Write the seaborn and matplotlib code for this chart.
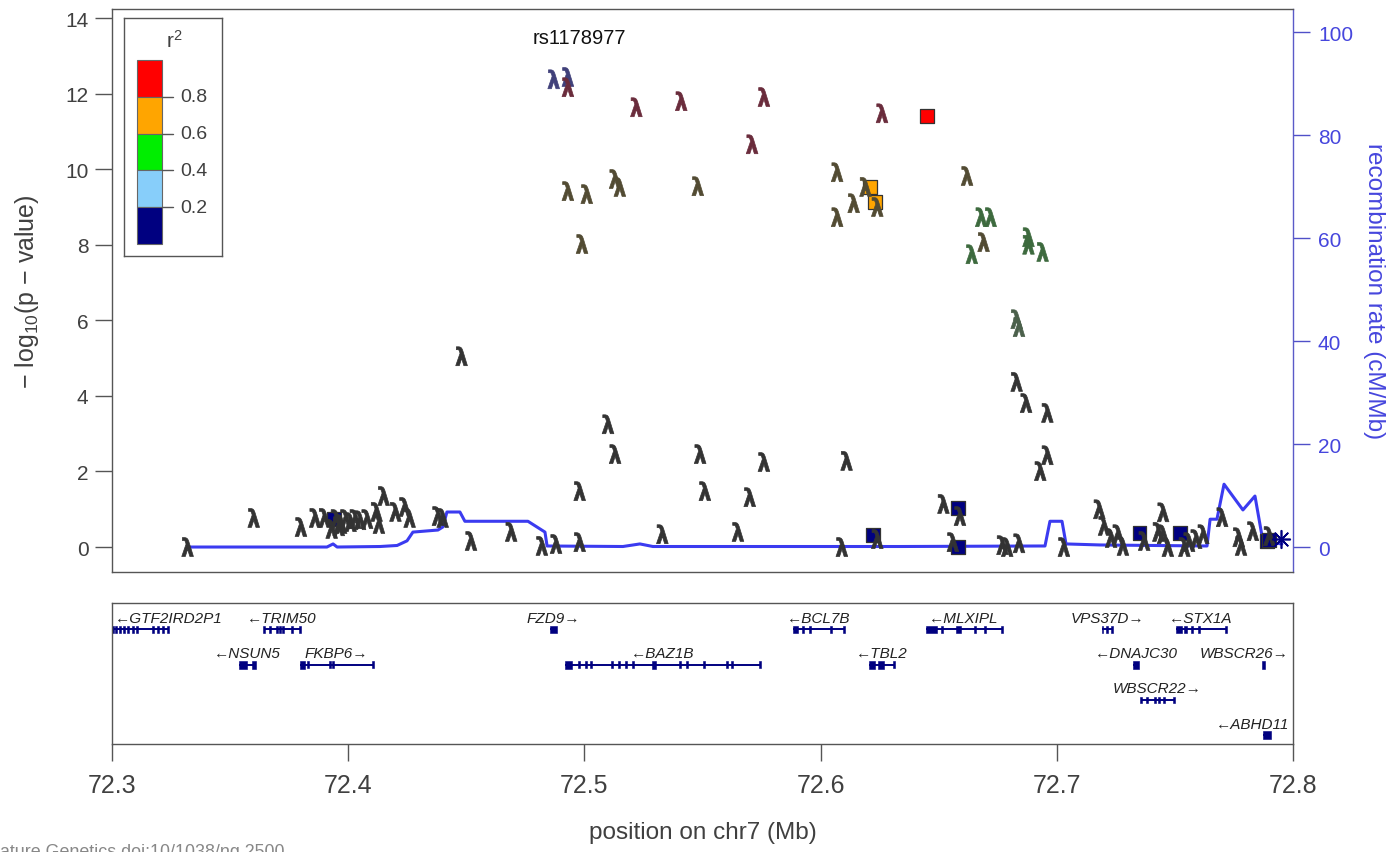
import matplotlib
matplotlib.use("Agg")
import matplotlib.pyplot as plt
import seaborn as sns
import pandas as pd
from matplotlib.patches import Rectangle
from matplotlib.textpath import TextPath
from matplotlib.font_manager import FontProperties
from matplotlib.path import Path

# ------------------------------------------------------------------ data
title_snp = "rs1178977"

# imputed SNPs (lambda symbols): position (Mb), -log10 p, colour group
lam_pos = [72.332, 72.360, 72.380, 72.386, 72.390, 72.393, 72.395, 72.396, 72.397, 72.399,
           72.401, 72.403, 72.405, 72.408, 72.412, 72.413, 72.415, 72.420, 72.424, 72.426,
           72.438, 72.440, 72.452,
           72.448, 72.510, 72.513, 72.549, 72.576, 72.611, 72.498, 72.551, 72.570, 72.469,
           72.482, 72.488, 72.498, 72.533, 72.565, 72.609, 72.624,
           72.487, 72.493, 72.493, 72.522, 72.541, 72.576, 72.571, 72.626,
           72.493, 72.501, 72.513, 72.515, 72.548, 72.499, 72.607, 72.619, 72.614, 72.607,
           72.624, 72.662, 72.669,
           72.668, 72.672, 72.664, 72.688, 72.688, 72.694, 72.683, 72.684,
           72.683, 72.687, 72.696, 72.696, 72.693, 72.652, 72.659, 72.656, 72.677, 72.679,
           72.684, 72.703, 72.718, 72.720, 72.723, 72.726, 72.728, 72.737, 72.745, 72.743,
           72.745, 72.747, 72.754, 72.756, 72.759, 72.762, 72.770, 72.777, 72.778, 72.783,
           72.790]
lam_logp = [0.00, 0.77, 0.53, 0.77, 0.77, 0.48, 0.74, 0.55, 0.61, 0.74,
            0.66, 0.74, 0.71, 0.74, 0.93, 0.61, 1.35, 0.93, 1.06, 0.77,
            0.82, 0.77, 0.16,
            5.05, 3.25, 2.46, 2.46, 2.25, 2.28, 1.48, 1.48, 1.32, 0.40,
            0.03, 0.08, 0.13, 0.34, 0.40, 0.00, 0.21,
            12.38, 12.44, 12.17, 11.64, 11.80, 11.91, 10.66, 11.48,
            9.42, 9.34, 9.74, 9.53, 9.55, 8.02, 9.92, 9.53, 9.10, 8.73,
            9.00, 9.82, 8.07,
            8.73, 8.73, 7.75, 8.20, 8.00, 7.81, 6.03, 5.82,
            4.37, 3.81, 3.55, 2.43, 2.01, 1.14, 0.82, 0.13, 0.05, 0.00,
            0.10, 0.00, 1.00, 0.56, 0.24, 0.34, 0.03, 0.16, 0.92, 0.40,
            0.34, 0.00, 0.00, 0.13, 0.21, 0.34, 0.79, 0.26, 0.03, 0.42,
            0.29]
lam_group = (["low"] * 23 + ["low"] * 17 +
             ["blue", "blue", "red", "red", "red", "red", "red", "red"] +
             ["olive"] * 13 +
             ["green"] * 6 + ["greengrey"] * 2 +
             ["low"] * 31)

# genotyped SNPs (squares): position, -log10 p, r2 with index SNP
sq_pos = [72.645, 72.621, 72.623, 72.394, 72.622, 72.658, 72.658, 72.735, 72.752, 72.789, 72.790]
sq_logp = [11.41, 9.53, 9.13, 0.74, 0.32, 1.03, 0.00, 0.37, 0.37, 0.16, 0.18]
sq_r2 = [0.9, 0.7, 0.7, 0.1, 0.1, 0.1, 0.1, 0.1, 0.1, 0.1, 0.1]

star_pos = [72.795]
star_logp = [0.21]

# recombination rate (cM/Mb)
rec_pos = [72.332, 72.391, 72.3936, 72.3953, 72.4135, 72.4207, 72.4249, 72.4274, 72.438, 72.4401,
           72.4418, 72.4473, 72.4494, 72.4761, 72.4833, 72.4842, 72.5163, 72.5235, 72.529, 72.6336,
           72.6929, 72.695, 72.6971, 72.7022, 72.7039, 72.7183, 72.7636, 72.7649, 72.7678, 72.7708,
           72.7788, 72.7839, 72.7869, 72.7881, 72.7953]
rec_rate = [0.0, 0.0, 0.6, 0.0, 0.1, 0.3, 1.2, 2.9, 3.3, 3.9,
            6.8, 6.8, 5.0, 5.0, 2.9, 0.2, 0.1, 0.6, 0.1, 0.1,
            0.2, 0.2, 5.0, 5.0, 0.6, 0.4, 0.2, 5.4, 5.4, 12.2,
            7.2, 9.9, 2.1, 1.0, 0.6]

# gene track
gene_names = ["GTF2IRD2P1", "TRIM50", "FZD9", "BCL7B", "MLXIPL", "VPS37D", "STX1A",
              "NSUN5", "FKBP6", "BAZ1B", "TBL2", "DNAJC30", "WBSCR26", "WBSCR22", "ABHD11"]
gene_strand = ["-", "-", "+", "-", "-", "+", "-", "-", "+", "-", "-", "-", "+", "+", "-"]
gene_row = [0, 0, 0, 0, 0, 0, 0, 1, 1, 1, 1, 1, 1, 2, 3]
gene_exons = {
    "GTF2IRD2P1": [(72.3004, 72.3004), (72.3017, 72.3017), (72.3034, 72.3034), (72.3051, 72.3051),
                   (72.3068, 72.3068), (72.3089, 72.3089), (72.3106, 72.3106), (72.3174, 72.3174),
                   (72.3195, 72.3195), (72.3216, 72.3216), (72.3237, 72.3237)],
    "TRIM50": [(72.3644, 72.3644), (72.3670, 72.3670), (72.3699, 72.3699), (72.3712, 72.3712),
               (72.3725, 72.3725), (72.3763, 72.3763), (72.3796, 72.3796)],
    "FZD9": [(72.4856, 72.4884)],
    "BCL7B": [(72.5883, 72.5905), (72.5926, 72.5926), (72.5955, 72.5955), (72.6044, 72.6044),
              (72.6099, 72.6099)],
    "MLXIPL": [(72.6445, 72.6493), (72.6514, 72.6514), (72.6573, 72.6595), (72.6654, 72.6654),
               (72.6696, 72.6696), (72.6768, 72.6768)],
    "VPS37D": [(72.7193, 72.7193), (72.7212, 72.7212), (72.7234, 72.7234)],
    "STX1A": [(72.7505, 72.7530), (72.7540, 72.7551), (72.7572, 72.7572), (72.7601, 72.7601),
              (72.7716, 72.7716)],
    "NSUN5": [(72.3538, 72.3572), (72.3593, 72.3610)],
    "FKBP6": [(72.3796, 72.3817), (72.3830, 72.3830), (72.3923, 72.3923), (72.3936, 72.3936),
              (72.4105, 72.4105)],
    "BAZ1B": [(72.4918, 72.4947), (72.4977, 72.4977), (72.5007, 72.5007), (72.5028, 72.5028),
              (72.5117, 72.5117), (72.5147, 72.5147), (72.5176, 72.5176), (72.5206, 72.5206),
              (72.5285, 72.5305), (72.5405, 72.5405), (72.5435, 72.5435), (72.5506, 72.5506),
              (72.5604, 72.5604), (72.5625, 72.5625), (72.5743, 72.5743)],
    "TBL2": [(72.6205, 72.6230), (72.6243, 72.6268), (72.6311, 72.6311)],
    "DNAJC30": [(72.7323, 72.7348)],
    "WBSCR26": [(72.7870, 72.7880)],
    "WBSCR22": [(72.7356, 72.7356), (72.7382, 72.7382), (72.7416, 72.7416), (72.7433, 72.7433),
                (72.7454, 72.7454), (72.7496, 72.7496)],
    "ABHD11": [(72.7874, 72.7906)],
}

x_ticks = [72.3, 72.4, 72.5, 72.6, 72.7, 72.8]
y_ticks = [0, 2, 4, 6, 8, 10, 12, 14]
rec_ticks = [0, 20, 40, 60, 80, 100]
r2_breaks = [0.2, 0.4, 0.6, 0.8]
r2_colors = ["#000080", "#87CEFA", "#00EE00", "#FFA500", "#FF0000"]

# ------------------------------------------------------------------ style
sns.set_theme(style="white")
plt.rcParams["font.family"] = ["Liberation Sans", "DejaVu Sans"]
plt.rcParams["mathtext.fontset"] = "custom"
plt.rcParams["mathtext.rm"] = "Liberation Sans"
plt.rcParams["mathtext.it"] = "Liberation Sans:italic"

W, H = 1398, 853
fig = plt.figure(figsize=(W / 100, H / 100), dpi=100)
fig.patch.set_facecolor("white")


def px_axes(l, t, r, b):
    return fig.add_axes([l / W, 1 - b / H, (r - l) / W, (b - t) / H])


ax = px_axes(112, 10, 1293, 573)
ax2 = ax.twinx()
gax = px_axes(112, 604, 1293, 745)

GREY = "#555555"
TXT = "#404040"
BLUE = "#3b3bf0"
BLUE_TXT = "#4646dd"

# ------------------------------------------------------------------ recombination
ax2.set_ylim(-4.85, 104.47)
rec_df = pd.DataFrame({"pos": rec_pos, "rate": rec_rate})
sns.lineplot(data=rec_df, x="pos", y="rate", ax=ax2, color=BLUE, linewidth=2.2,
             sort=False, estimator=None)
ax2.set_yticks(rec_ticks)
ax2.tick_params(axis="y", right=True, length=12, width=1, color="#5050c8",
                labelsize=15, labelcolor=BLUE_TXT, pad=6)
for s in ax2.spines.values():
    s.set_visible(False)
ax2.set_ylabel("recombination rate (cM/Mb)", color=BLUE_TXT, fontsize=17.5, rotation=270,
               va="center")
ax2.yaxis.set_label_coords(1.069, 0.5)

# ------------------------------------------------------------------ association points
ax.set_zorder(ax2.get_zorder() + 1)
ax.patch.set_visible(False)

tp = TextPath((0, 0), "λ", prop=FontProperties(family="DejaVu Sans", weight="bold"), size=1)
verts = tp.vertices.copy()
ext = tp.get_extents()
verts[:, 0] -= (ext.x0 + ext.x1) / 2
verts[:, 1] -= (ext.y0 + ext.y1) / 2
verts[:, 0] *= 0.82
lam_marker = Path(verts, tp.codes)

lam_palette = {"low": "#333333", "red": "#6a2c3c", "blue": "#40407a", "olive": "#524b33",
               "green": "#3d6a3e", "greengrey": "#4b604b"}


def r2_bin_colour(r):
    k = sum(r >= b for b in r2_breaks)
    return r2_colors[k]


sq_df = pd.DataFrame({"pos": sq_pos, "logp": sq_logp,
                      "col": [r2_bin_colour(r) for r in sq_r2]})
sns.scatterplot(data=sq_df, x="pos", y="logp", hue="col",
                palette={c: c for c in sq_df["col"].unique()},
                marker="s", s=100, edgecolor="#333333", linewidth=0.9, legend=False,
                ax=ax, zorder=3)

lam_df = pd.DataFrame({"pos": lam_pos, "logp": lam_logp, "grp": lam_group})
sns.scatterplot(data=lam_df, x="pos", y="logp", hue="grp", palette=lam_palette,
                marker=lam_marker, s=185, edgecolor="face", linewidth=0.5, legend=False,
                ax=ax, zorder=4)

star_df = pd.DataFrame({"pos": star_pos, "logp": star_logp})
sns.scatterplot(data=star_df, x="pos", y="logp", marker=(8, 2, 0), s=160, color="#000080",
                edgecolor="#000080", linewidth=1.2, legend=False, ax=ax, zorder=5)

ax.set_xlim(72.3, 72.8)
ax.set_ylim(-0.66, 14.24)
ax.set_xticks([])
ax.set_yticks(y_ticks)
ax.tick_params(axis="y", left=True, length=12, width=1, color=GREY, labelsize=15,
               labelcolor=TXT, pad=5)
ax.set_xlabel("")
ax.set_ylabel(r"$-$ log$_{10}$(p $-$ value)", fontsize=18, color=TXT, va="center")
ax.yaxis.set_label_coords(-0.072, 0.5)
for name, s in ax.spines.items():
    s.set_color(GREY)
    s.set_linewidth(1)
ax.spines["right"].set_color("#5a5ac8")

ax.text(0.396, 0.950, title_snp, transform=ax.transAxes, ha="center", va="center",
        fontsize=14.5, color="#111111")

# ------------------------------------------------------------------ legend (r2 colour key)
lax = px_axes(124, 19, 222, 257)
lax.set_zorder(ax.get_zorder() + 1)
lax.set_xlim(0, 98)
lax.set_ylim(238, 0)
lax.set_xticks([])
lax.set_yticks([])
lax.set_facecolor("white")
for s in lax.spines.values():
    s.set_color(GREY)
    s.set_linewidth(1)
seg = 36.8
for i, c in enumerate(reversed(r2_colors)):
    lax.add_patch(Rectangle((13, 42 + i * seg), 25, seg, facecolor=c, edgecolor="#666666",
                            linewidth=0.8))
for i, b in enumerate(reversed(r2_breaks)):
    y = 42 + (i + 1) * seg
    lax.plot([38, 49], [y, y], color=GREY, linewidth=1)
    lax.text(56, y, f"{b:.1f}", fontsize=14, color=TXT, va="center", ha="left")
lax.text(50, 22, r"r$^2$", fontsize=15, color=TXT, ha="center", va="center")

# ------------------------------------------------------------------ gene track
gax.set_xlim(72.3, 72.8)
gax.set_ylim(4.0, 0)
gax.set_yticks([])
gax.set_xticks(x_ticks)
gax.set_xticklabels([f"{t:.1f}" for t in x_ticks])
gax.tick_params(axis="x", bottom=True, length=12, width=1, color=GREY, labelsize=18,
                labelcolor=TXT, pad=9)
for s in gax.spines.values():
    s.set_color(GREY)
    s.set_linewidth(1)
gax.set_xlabel("position on chr7 (Mb)", fontsize=17.5, color=TXT, va="center")
gax.xaxis.set_label_coords(0.5, -0.624)

NAVY = "#000080"
gene_texts = []
for name, strand, row in zip(gene_names, gene_strand, gene_row):
    ex = gene_exons[name]
    g0 = min(e[0] for e in ex)
    g1 = max(e[1] for e in ex)
    yb = row + 0.75
    if g1 - g0 > 0.0015:
        gax.plot([g0, g1], [yb, yb], color=NAVY, linewidth=1.4, solid_capstyle="butt")
    for e0, e1 in ex:
        w = max(e1 - e0, 0.0007)
        xc = (e0 + e1) / 2
        hgt = 0.22 if (e1 - e0) > 0.0007 else 0.19
        gax.add_patch(Rectangle((xc - w / 2, yb - hgt / 2), w, hgt, facecolor=NAVY,
                                edgecolor=NAVY, linewidth=0.4))
    label = ("\u2190" + name) if strand == "-" else (name + "\u2192")
    t = gax.text((g0 + g1) / 2, row + 0.42, label, ha="center", va="center",
                 fontsize=11, style="italic", color="#222222")
    gene_texts.append(t)

# footnote (partly cut off at the figure edge, as in the source)
fig.text(-13 / W, 1 - 844 / H, "Nature Genetics doi:10/1038/ng.2500", fontsize=12.9,
         color="#888888", ha="left", va="top")

# keep gene labels inside the track box
fig.canvas.draw()
rend = fig.canvas.get_renderer()
gbb = gax.get_window_extent(rend)
for t in gene_texts:
    bb = t.get_window_extent(rend)
    dx = 0
    if bb.x0 < gbb.x0 + 3:
        dx = gbb.x0 + 3 - bb.x0
    elif bb.x1 > gbb.x1 - 4:
        dx = gbb.x1 - 4 - bb.x1
    if dx:
        xd, yd = gax.transData.transform(t.get_position())
        t.set_position(gax.transData.inverted().transform((xd + dx, yd)))

fig.savefig("out.png", dpi=100)
